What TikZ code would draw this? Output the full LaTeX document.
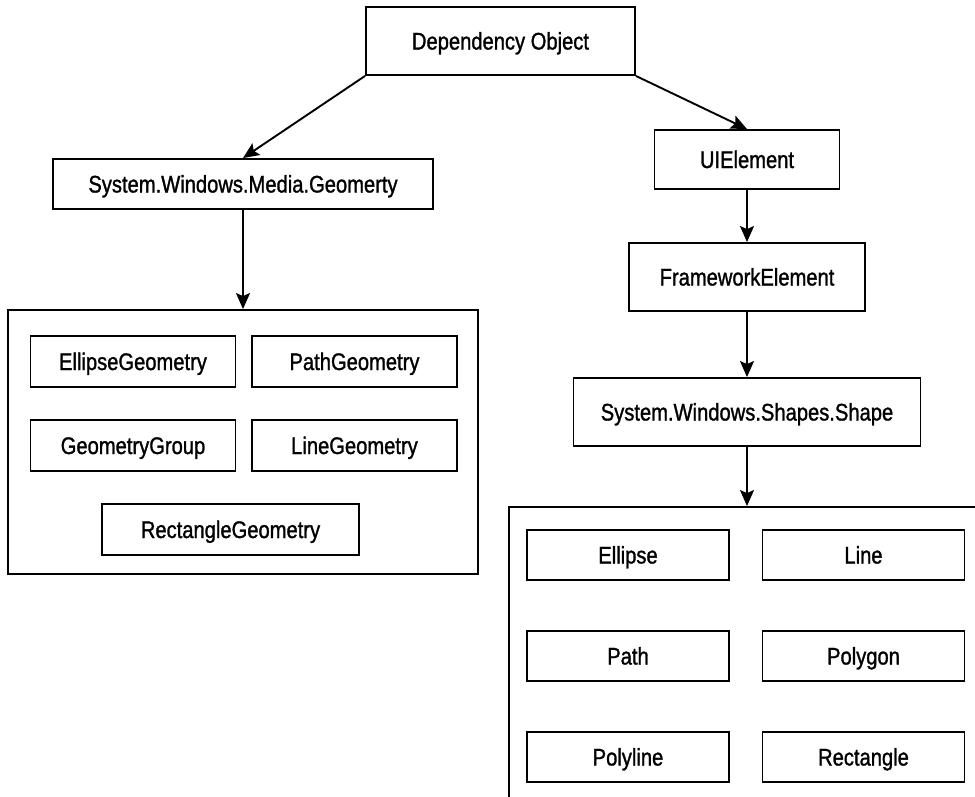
\documentclass[tikz,border=0pt]{standalone}
\usepackage{fontspec}
\setmainfont{Liberation Sans}[FakeStretch=0.84, FakeBold=1.2]
\usepackage{tikz}
\usetikzlibrary{positioning, arrows.meta}

\begin{document}
\begin{tikzpicture}[x=1pt, y=-1pt,
		ClassBox/.style={rectangle, draw, line width=1.9pt, inner sep=0pt, text height=17pt, text depth=0pt, font=\fontsize{24}{28}\selectfont},
		GroupBox/.style={rectangle, draw, line width=1.9pt, inner sep=0pt},
		MemberBox/.style={ClassBox, minimum width=205pt, minimum height=51pt},
		Inherit/.style={line width=1.9pt, -{Stealth[length=16pt, width=14pt, inset=3pt]}}]

	\useasboundingbox (0,0) rectangle (975,796);
	\clip (0,0) rectangle (975,796);

	% class chain
	\node[ClassBox, minimum width=269pt, minimum height=68pt] (DO) at (500.5,41) {Dependency Object};
	\node[ClassBox, minimum width=380pt, minimum height=50pt] (Geom) at (243,184) {System.Windows.Media.Geomerty};
	\node[ClassBox, minimum width=185pt, minimum height=59pt] (UI) at (747,159.5) {UIElement};
	\node[ClassBox, minimum width=236pt, minimum height=68pt] (FE) at (747,277) {FrameworkElement};
	\node[ClassBox, minimum width=347pt, minimum height=68pt] (Shape) at (747,412) {System.Windows.Shapes.Shape};

	% geometry group
	\node[GroupBox, minimum width=470pt, minimum height=264pt] (GeomGroup) at (243,442) {};
	\node[MemberBox] (EllGeom) at (133,361.5) {EllipseGeometry};
	\node[MemberBox] (PathGeom) at (354.5,361.5) {PathGeometry};
	\node[MemberBox] (GrpGeom) at (133,445.5) {GeometryGroup};
	\node[MemberBox] (LineGeom) at (354.5,445.5) {LineGeometry};
	\node[MemberBox, minimum width=257pt] (RectGeom) at (230.5,529.5) {RectangleGeometry};

	% shape group, runs off the page
	\node[GroupBox, minimum width=520pt, minimum height=340pt] (ShapeGroup) at (769,677) {};
	\node[MemberBox, minimum width=202pt, minimum height=50pt] (Ell) at (628,555) {Ellipse};
	\node[MemberBox, minimum width=202pt, minimum height=50pt] (Line) at (863.5,555) {Line};
	\node[MemberBox, minimum width=202pt, minimum height=50pt] (Path) at (628,656) {Path};
	\node[MemberBox, minimum width=202pt, minimum height=50pt] (Poly) at (863.5,656) {Polygon};
	\node[MemberBox, minimum width=202pt, minimum height=50pt] (PolyL) at (628,757) {Polyline};
	\node[MemberBox, minimum width=202pt, minimum height=50pt] (Rect) at (863.5,757) {Rectangle};

	\draw[Inherit] (DO.south west) to (Geom.north);
	\draw[Inherit] (DO.south east) to (UI.north);
	\draw[Inherit] (Geom) to (GeomGroup.north);
	\draw[Inherit] (UI) to (FE);
	\draw[Inherit] (FE) to (Shape);
	\draw[Inherit] (Shape) to (Shape |- ShapeGroup.north);
\end{tikzpicture}
\end{document}
